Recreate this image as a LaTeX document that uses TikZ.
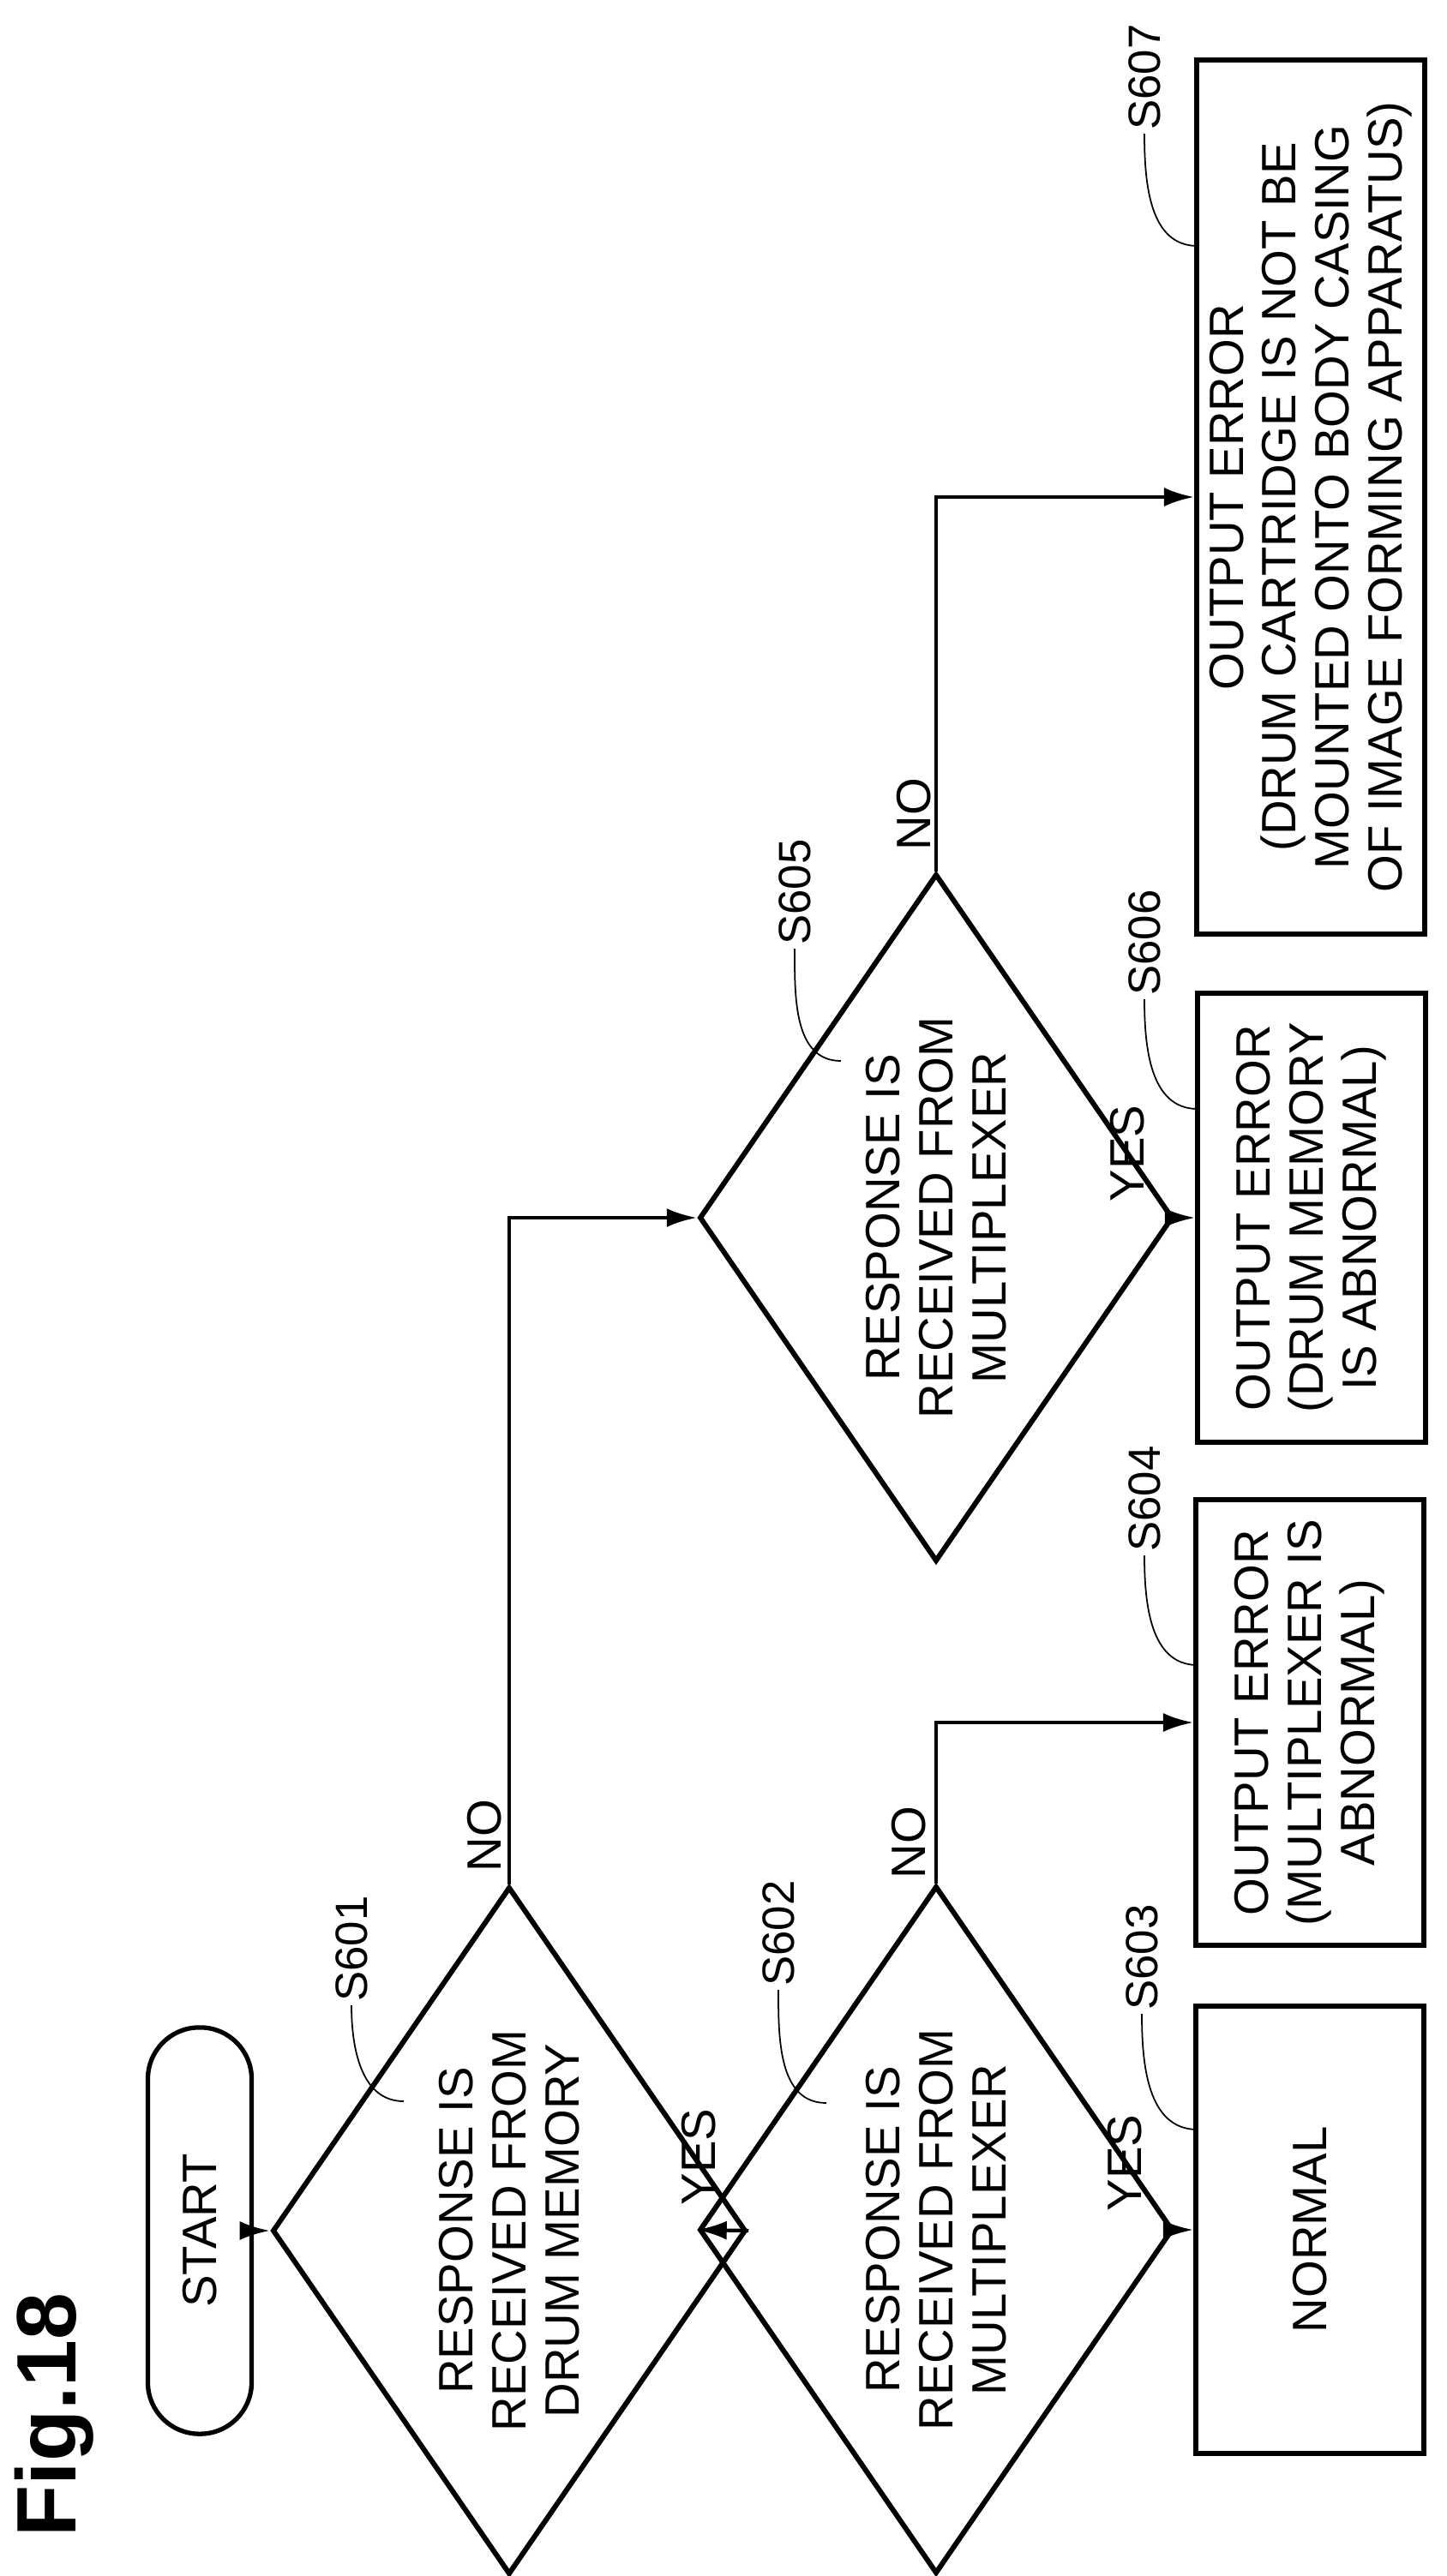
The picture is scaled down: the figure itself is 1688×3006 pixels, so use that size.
\documentclass[tikz,border=0pt]{standalone}
\usepackage{fontspec}
\setmainfont{Liberation Sans}
\usetikzlibrary{shapes.geometric,arrows.meta}

\tikzset{
  txt/.style={rotate=90, font=\fontsize{16}{17.6}\selectfont, align=center},
  box/.style={txt, draw, line width=1.7pt, minimum width=#1, minimum height=2.66cm, inner sep=2pt},
  dec/.style={txt, draw, diamond, line width=1.7pt, minimum width=8.02cm, minimum height=3.8cm,
    inner xsep=-0.3cm, inner ysep=-0.1cm},
  term/.style={txt, draw, rounded corners=0.6cm, line width=1.5pt, minimum width=4.74cm, minimum height=1.21cm},
  lab/.style={txt, font=\fontsize{15}{16}\selectfont, inner sep=1pt},
  flow/.style={line width=1.2pt, -{Latex[length=0.35cm,width=0.22cm]}},
  lead/.style={line width=0.5pt}
}

\begin{document}
\begin{tikzpicture}[x=0.01cm, y=-0.01cm]
   \useasboundingbox (0,0) rectangle (1688,3006);
   %% \draw [help lines] (0,0) grid[step=100] (1688,3006);

   \node [txt, font=\bfseries\fontsize{28}{30}\selectfont] (fig) at (63,2818) {Fig.18};

   \node [term] (start) at (233,2603) {START};

   \node [dec] (d601) at (594,2603) {RESPONSE IS\\RECEIVED FROM\\DRUM MEMORY};
   \node [dec] (d602) at (1092,2602) {RESPONSE IS\\RECEIVED FROM\\MULTIPLEXER};
   \node [dec] (d605) at (1092,1421) {RESPONSE IS\\RECEIVED FROM\\MULTIPLEXER};

   \node [box=5.22cm] (s603) at (1528,2602) {NORMAL};
   \node [box=5.2cm] (s604) at (1528,2010) {OUTPUT ERROR\\(MULTIPLEXER IS\\ABNORMAL)};
   \node [box=5.24cm] (s606) at (1530,1421) {OUTPUT ERROR\\(DRUM MEMORY\\IS ABNORMAL)};
   \node [box=10.19cm] (s607) at (1529,580) {OUTPUT ERROR\\(DRUM CARTRIDGE IS NOT BE\\MOUNTED ONTO BODY CASING\\OF IMAGE FORMING APPARATUS)};

   %% connectors
   \draw [flow] (start.south) -- (d601.north);
   \draw [flow] (d601.south) -- (d602.north);
   \draw [flow] (d602.south) -- (s603.north);
   \draw [flow] (d602.east) |- (s604.north);
   \draw [flow] (d601.east) |- (d605.north);
   \draw [flow] (d605.south) -- (s606.north);
   \draw [flow] (d605.east) |- (s607.north);

   \node [txt] (no601) at (565,2142) {NO};
   \node [txt] (yes601) at (815,2517) {YES};
   \node [txt] (no602) at (1060,2150) {NO};
   \node [txt] (yes602) at (1312,2524) {YES};
   \node [txt] (no605) at (1066,950) {NO};
   \node [txt] (yes605) at (1315,1346) {YES};

   %% step labels
   \node [lab, anchor=west] (l601) at (410,2340) {S601};
   \node [lab, anchor=west] (l602) at (908,2322) {S602};
   \node [lab, anchor=west] (l603) at (1332,2350) {S603};
   \node [lab, anchor=west] (l604) at (1335,1815) {S604};
   \node [lab, anchor=west] (l605) at (927,1107) {S605};
   \node [lab, anchor=west] (l606) at (1335,1166) {S606};
   \node [lab, anchor=west] (l607) at (1335,156) {S607};

   \coordinate (c601) at (471,2452);
   \coordinate (c602) at (964,2454);
   \coordinate (c603) at (1397,2485);
   \coordinate (c604) at (1397,1943);
   \coordinate (c605) at (981,1238);
   \coordinate (c606) at (1397,1294);
   \coordinate (c607) at (1397,287);

   \foreach \s in {601,602,603,604,605,606,607}
      \draw [lead] (l\s.west) to[out=-90, in=180] (c\s);
\end{tikzpicture}
\end{document}
